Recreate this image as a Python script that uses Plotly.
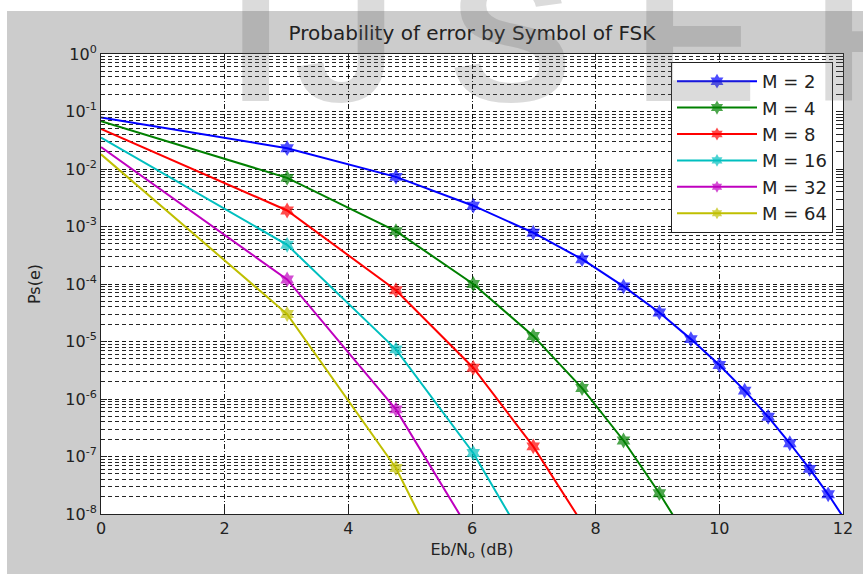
import plotly.graph_objects as go

# Eb/N0 in dB (sample points of the curves)
ebno_db = [0.0, 3.01, 4.77, 6.02, 6.99, 7.78, 8.45, 9.03, 9.54, 10.0,
           10.41, 10.79, 11.14, 11.46, 11.76, 12.04]

# Symbol error probability
ps_m2 = [7.9e-2, 2.3e-2, 7.3e-3, 2.3e-3, 7.8e-4, 2.7e-4, 9.1e-5, 3.2e-5,
         1.1e-5, 3.9e-6, 1.4e-6, 4.9e-7, 1.7e-7, 6.1e-8, 2.2e-8, 7.7e-9]
ps_m4 = [6.8e-2, 7.0e-3, 8.3e-4, 1.0e-4, 1.25e-5, 1.55e-6, 1.9e-7, 2.3e-8, 3.0e-9]
ps_m8 = [5.0e-2, 1.9e-3, 7.8e-5, 3.5e-6, 1.5e-7, 7.0e-9]
ps_m16 = [3.5e-2, 4.8e-4, 7.3e-6, 1.15e-7, 1.9e-9]
ps_m32 = [2.4e-2, 1.2e-4, 6.6e-7, 4.0e-9]
ps_m64 = [1.8e-2, 3.0e-5, 6.3e-8, 1.3e-10]

series_names = ["M = 2", "M = 4", "M = 8", "M = 16", "M = 32", "M = 64"]
series_values = [ps_m2, ps_m4, ps_m8, ps_m16, ps_m32, ps_m64]
series_colors = ["#0000ff", "#008000", "#ff0000", "#00bfbf", "#bf00bf", "#bfbf00"]

decades = [-8, -7, -6, -5, -4, -3, -2, -1, 0]
y_tickvals = [10.0 ** d for d in decades]
y_ticktext = ["10<sup>%d</sup>" % d for d in decades]
y_minorvals = [m * 10.0 ** d for d in decades[:-1] for m in range(2, 10)]

x_tickvals = [0, 2, 4, 6, 8, 10, 12]

FONT = "DejaVu Sans"
TXT = "#222222"

fig = go.Figure()
for name, vals, col in zip(series_names, series_values, series_colors):
    xs = ebno_db[:len(vals)]
    sizes = [0] + [12] * (len(vals) - 1)
    fig.add_trace(go.Scatter(
        x=xs, y=vals, name=name, mode="lines+markers",
        line=dict(color=col, width=2),
        marker=dict(symbol="hexagram", size=sizes, color=col,
                    line=dict(width=0)),
    ))

fig.update_layout(
    width=863, height=574,
    margin=dict(l=101, r=20, t=54, b=60),
    paper_bgcolor="#cccccc",
    plot_bgcolor="#ffffff",
    font=dict(family=FONT, size=15, color=TXT),
    title=dict(text="Probability of error by Symbol of FSK",
               x=(472 / 863), xanchor="center",
               y=1 - 33 / 574, yanchor="middle", yref="container",
               font=dict(family=FONT, size=20, color=TXT)),
    showlegend=True,
    legend=dict(x=(833 - 101) / 742, xanchor="right",
                y=1 - 8 / 460, yanchor="top",
                bgcolor="#ffffff", bordercolor="#222222", borderwidth=1,
                font=dict(family=FONT, size=18, color=TXT),
                itemwidth=80, tracegroupgap=0),
)

fig.update_xaxes(
    range=[0, 12], tickvals=x_tickvals, ticktext=[str(v) for v in x_tickvals],
    showline=True, linecolor="#222222", linewidth=1, mirror="ticks",
    ticks="inside", ticklen=6, tickcolor="#222222",
    showgrid=True, gridcolor="rgba(0,0,0,0.9)", gridwidth=1,
    griddash="5px,2px,1px,2px",
    zeroline=False, automargin=False,
    tickfont=dict(family=FONT, size=16, color=TXT),
    title=dict(text="Eb/N<sub>o</sub> (dB)", standoff=6,
               font=dict(family=FONT, size=16, color=TXT)),
)

fig.update_yaxes(
    type="log", range=[-8, 0], automargin=False,
    tickmode="array", tickvals=y_tickvals, ticktext=y_ticktext,
    showline=True, linecolor="#222222", linewidth=1, mirror="ticks",
    ticks="inside", ticklen=6, tickcolor="#222222",
    showgrid=True, gridcolor="rgba(0,0,0,0.9)", gridwidth=1,
    griddash="4px,3px",
    minor=dict(tickmode="array", tickvals=y_minorvals, ticks="inside",
               ticklen=3, tickcolor="#222222", showgrid=True,
               gridcolor="rgba(0,0,0,0.85)", gridwidth=1, griddash="4px,3px"),
    tickfont=dict(family=FONT, size=16, color=TXT),
    title=dict(text="Ps(e)", standoff=20,
               font=dict(family=FONT, size=16, color=TXT)),
)

# white margin strips (top and left) of the original figure image
fig.add_shape(type="rect", xref="paper", yref="paper",
              x0=-101 / 742, x1=762 / 742, y0=1 + 43 / 460, y1=1 + 60 / 460,
              fillcolor="#ffffff", line=dict(width=0), layer="above")
fig.add_shape(type="rect", xref="paper", yref="paper",
              x0=-101 / 742, x1=-94 / 742, y0=-60 / 460, y1=1 + 60 / 460,
              fillcolor="#ffffff", line=dict(width=0), layer="above")

# watermark letters
wm_letters = ["I", "J", "S", "E", "R"]
wm_xpix = [255, 345, 510, 695, 880]
for ch, xp in zip(wm_letters, wm_xpix):
    fig.add_annotation(text="<b>%s</b>" % ch, xref="paper", yref="paper",
                       x=(xp - 101) / 742, y=(514 - 142) / 460,
                       xanchor="center", yanchor="bottom", showarrow=False,
                       font=dict(family="Liberation Sans", size=185,
                                 color="rgba(100,100,100,0.23)"))

fig.write_html("out.html",
               config={"displayModeBar": False},
               post_script="document.body.style.margin='0px';"
                           "document.body.style.padding='0px';")
